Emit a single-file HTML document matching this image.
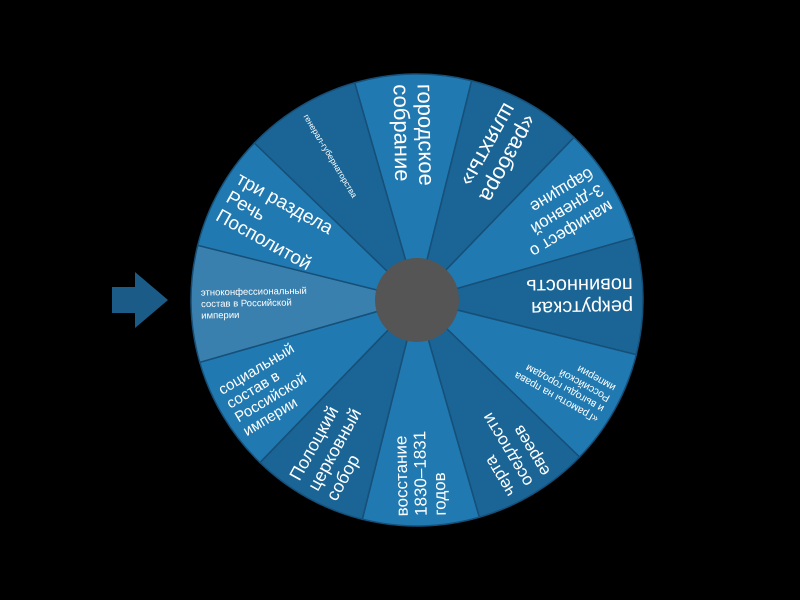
<!DOCTYPE html>
<html><head><meta charset="utf-8"><style>
html,body{margin:0;padding:0;background:#000;width:800px;height:600px;overflow:hidden}
svg{display:block}
text{font-family:"Liberation Sans",sans-serif;fill:#fff}
</style></head><body>
<svg width="800" height="600" viewBox="0 0 800 600">
<rect width="800" height="600" fill="#000"/>
<polygon points="112,287 135,287 135,272 168,300 135,328 135,313 112,313" fill="#1a5b88"/>
<g transform="translate(417,300) rotate(-1)" id="wheel"></g>
</svg>
<script>
(function(){
var g=document.getElementById('wheel');var R=226,ns='http://www.w3.org/2000/svg';
var segs=[
[270,'#2079b0',['городское','собрание'],22,24],
[300,'#1a6595',['«разбора','шляхты»'],22,24],
[330,'#2079b0',['манифест о','3-дневной','барщине'],17,19],
[0,'#1a6595',['рекрутская','повинность'],20,22],
[30,'#2079b0',['«Грамоты на права','и выгоды городам','Российской','империи'],10.5,12],
[60,'#1a6595',['черта','оседлости','евреев'],17,20],
[90,'#2079b0',['восстание','1830–1831','годов'],17,19],
[120,'#1a6595',['Полоцкий','церковный','собор'],18,21],
[150,'#2079b0',['социальный','состав в','Российской','империи'],15,16],
[180,'#3a80ae',['этноконфессиональный','состав в Российской','империи'],9.5,11.5],
[210,'#2079b0',['три раздела','Речь','Посполитой'],19,21],
[240,'#1a6595',['генерал-губернаторства'],8.5,10]];
function pt(a){a=a*Math.PI/180;return [R*Math.cos(a),R*Math.sin(a)];}
segs.forEach(function(s){
var a=pt(s[0]-15),b=pt(s[0]+15);
var p=document.createElementNS(ns,'path');
p.setAttribute('d','M0,0 L'+a[0]+','+a[1]+' A'+R+','+R+' 0 0 1 '+b[0]+','+b[1]+' Z');
p.setAttribute('fill',s[1]);p.setAttribute('stroke','#164f78');p.setAttribute('stroke-width','1.5');
g.appendChild(p);
});
segs.forEach(function(s){
var t=document.createElementNS(ns,'text');
t.setAttribute('transform','rotate('+(s[0]+180)+')');
t.setAttribute('font-size',s[3]);
var n=s[2].length,lh=s[4];
var y0=-(n-1)*lh/2+s[3]*0.35;
s[2].forEach(function(l,i){var ts=document.createElementNS(ns,'tspan');
ts.setAttribute('x',-(R-10));ts.setAttribute('y',y0+i*lh);ts.textContent=l;t.appendChild(ts);});
g.appendChild(t);
});
var c=document.createElementNS(ns,'circle');c.setAttribute('r',42);c.setAttribute('fill','#555');g.appendChild(c);
})();
</script>
</body></html>
